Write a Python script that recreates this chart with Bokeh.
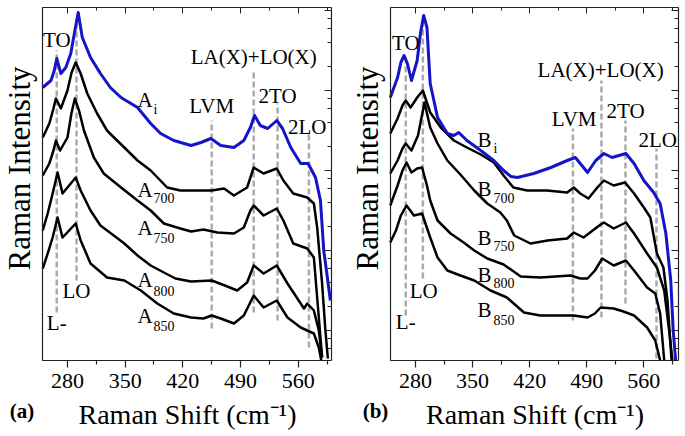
import math
from bokeh.plotting import figure
from bokeh.layouts import row
from bokeh.models import (Range1d, LinearAxis, LogAxis, LogScale, FixedTicker, Label,
                          CustomJSTickFormatter, AllLabels)
from bokeh.embed import file_html
from bokeh.resources import INLINE

FONT = "Liberation Serif"
BLUE = "#1414c8"
GRAY = "#ababab"
INK = "#222222"

# ---------------- data ----------------
tick_values = [280, 350, 420, 490, 560]
minor_tick_values = [315, 385, 455, 525, 595]

# Panel (a)
a_i_x = [250, 260, 264, 267, 272, 278, 284, 289, 293, 298, 308, 320, 332, 345, 365, 381, 393, 409, 430, 442, 454, 466, 482, 494, 502, 507, 514, 523, 534, 541, 551, 563, 572, 581, 587, 591, 597, 599]
a_i_y = [273, 280, 290, 302, 287, 293, 307, 330, 348, 323, 303, 287, 273, 263, 253, 237, 227, 220, 215, 218, 222, 215, 213, 220, 233, 245, 235, 232, 240, 232, 213, 197, 197, 183, 160, 110, 73, 60]
a_700_x = [250, 258, 263, 266, 272, 280, 285, 290, 296, 304, 316, 328, 334, 349, 365, 381, 401, 417, 430, 455, 470, 482, 498, 506, 518, 534, 542, 554, 571, 579, 583, 589, 593, 596]
a_700_y = [223, 237, 252, 262, 252, 270, 288, 298, 287, 267, 247, 230, 225, 213, 200, 190, 173, 170, 170, 170, 172, 165, 173, 193, 187, 192, 180, 167, 163, 157, 133, 77, 30, 2]
a_750_x = [250, 258, 263, 266, 271, 280, 285, 289, 294, 300, 312, 324, 345, 365, 381, 397, 417, 430, 445, 462, 482, 494, 502, 506, 518, 534, 542, 554, 571, 579, 585, 589]
a_750_y = [185, 197, 210, 220, 210, 223, 248, 262, 250, 230, 203, 187, 173, 160, 150, 137, 132, 129, 131, 128, 127, 133, 150, 155, 145, 152, 140, 117, 112, 103, 43, 3]
a_800_x = [250, 256, 262, 268, 274, 282, 290, 296, 308, 320, 333, 349, 365, 381, 397, 411, 430, 455, 471, 486, 498, 506, 518, 534, 547, 563, 567, 571, 579, 585, 589]
a_800_y = [130, 147, 167, 188, 167, 175, 183, 170, 150, 135, 127, 117, 105, 95, 88, 82, 79, 80, 75, 70, 78, 95, 87, 95, 77, 57, 52, 57, 50, 30, 3]
a_850_x = [250, 256, 262, 268, 274, 282, 290, 296, 308, 328, 349, 369, 389, 409, 430, 445, 455, 466, 482, 494, 506, 518, 534, 547, 563, 579, 585, 588]
a_850_y = [92, 107, 123, 143, 123, 130, 137, 120, 97, 83, 80, 70, 57, 47, 43, 42, 45, 42, 37, 45, 65, 53, 60, 43, 33, 27, 13, 0]

a_peak_x = [267, 291, 455, 506, 535, 573]
a_peak_top = [310, 342, 240, 290, 257, 228]
a_peak_bottom = [48, 80, 32, 48, 40, 13]

# Panel (b)
b_i_x = [249, 258, 262, 266, 270, 275, 282, 286, 290, 294, 298, 307, 319, 327, 333, 343, 360, 376, 388, 397, 405, 425, 446, 466, 476, 482, 491, 501, 511, 521, 538, 548, 560, 572, 580, 587, 593, 596, 599]
b_i_y = [263, 283, 298, 305, 297, 280, 300, 327, 345, 333, 277, 243, 227, 225, 228, 220, 210, 200, 190, 184, 183, 187, 193, 200, 203, 197, 188, 200, 207, 203, 207, 197, 180, 168, 157, 127, 80, 30, 0]
b_700_x = [249, 258, 264, 268, 274, 282, 289, 298, 311, 327, 343, 360, 376, 388, 400, 417, 441, 466, 474, 482, 492, 503, 511, 523, 537, 548, 560, 568, 576, 584, 589, 594]
b_700_y = [227, 242, 255, 260, 253, 263, 270, 248, 233, 220, 213, 206, 198, 185, 173, 170, 170, 168, 173, 167, 162, 173, 180, 175, 178, 167, 153, 143, 107, 93, 60, 0]
b_750_x = [249, 258, 264, 268, 275, 283, 291, 298, 307, 319, 335, 352, 368, 384, 392, 401, 421, 442, 466, 474, 486, 507, 511, 523, 538, 548, 564, 576, 585, 591, 595]
b_750_y = [187, 200, 212, 217, 210, 225, 258, 233, 217, 200, 186, 170, 157, 148, 140, 125, 117, 120, 122, 128, 123, 136, 138, 132, 138, 127, 107, 93, 70, 30, 0]
b_800_x = [249, 258, 264, 269, 275, 282, 288, 294, 298, 307, 323, 339, 352, 368, 388, 409, 433, 470, 482, 491, 500, 509, 523, 538, 548, 564, 574, 580, 585]
b_800_y = [155, 175, 190, 198, 188, 192, 193, 175, 160, 140, 127, 118, 110, 102, 96, 84, 83, 85, 82, 82, 90, 102, 95, 100, 90, 73, 67, 47, 0]
b_850_x = [249, 256, 262, 269, 278, 288, 298, 307, 319, 335, 352, 372, 392, 413, 433, 474, 491, 500, 507, 523, 535, 548, 564, 574, 580]
b_850_y = [118, 130, 145, 155, 145, 147, 123, 103, 90, 85, 80, 70, 63, 48, 45, 45, 43, 47, 53, 52, 49, 45, 33, 20, 0]

b_peak_x = [268, 289, 473, 508, 537.5, 575.5]
b_peak_top = [305, 345, 232, 280, 240, 212]
b_peak_bottom = [45, 82, 40, 43, 57, 2]

a_series = [("A", "i", a_i_x, a_i_y), ("A", "700", a_700_x, a_700_y), ("A", "750", a_750_x, a_750_y),
            ("A", "800", a_800_x, a_800_y), ("A", "850", a_850_x, a_850_y)]
b_series = [("B", "i", b_i_x, b_i_y), ("B", "700", b_700_x, b_700_y), ("B", "750", b_750_x, b_750_y),
            ("B", "800", b_800_x, b_800_y), ("B", "850", b_850_x, b_850_y)]

mode_names = ["TO", "LA(X)+LO(X)", "LVM", "2TO", "2LO", "LO", "L-"]
x_title = "Raman Shift (cm\u207b\u00b9)"
y_title = "Raman Intensity"

# ---------------- layout ----------------
Y_BOX = (0, 353)          # intensity range shown inside the box
FIG_H = 436
BOX_TOP_PX, BOX_BOTTOM_PX = 7, 360

a_mode_pos = [(267, 321), (506, 304), (455, 255), (535, 265), (571, 234), (291, 70), (267, 38)]
b_mode_pos = [(268, 318), (507, 291), (474.5, 241.5), (537.5, 250), (577, 220.5), (290, 70), (268, 39)]
a_tag_pos = [(365, 384.5, 261, 251), (365, 384.5, 170.5, 162.5), (365, 384.5, 133, 122.5),
             (365, 384.5, 80.5, 70), (365, 384.5, 45, 35)]
b_tag_pos = [(356, 375.6, 221, 212), (356, 375.6, 171.5, 162.5), (356, 375.6, 122.5, 115),
             (356, 375.6, 86, 77.5), (356, 375.6, 51, 41)]


def label(p, x, y, text, size="21px", align="center", angle=0.0, style="normal"):
    p.add_layout(Label(x=x, y=y, text=text, text_font=FONT, text_font_size=size,
                       text_align=align, text_baseline="middle", angle=angle,
                       text_font_style=style, text_color="black"))


def blank_labels(ax):
    ax.formatter = CustomJSTickFormatter(code="return ''")
    ax.major_label_text_font_size = "1px"
    ax.major_label_standoff = 0
    ax.major_label_policy = AllLabels()


def panel(width, box_left_px, box_right_px, xbox, series, peak_x, peak_top, peak_bot,
          mode_pos, tag_pos, letter, ylab_px, xlab_px, letter_px):
    # whole figure is the frame; the visible box is drawn by axes pinned at its edges
    sx = (box_right_px - box_left_px) / (xbox[1] - xbox[0])
    x0 = xbox[0] - box_left_px / sx
    x1 = x0 + width / sx
    sy = (BOX_BOTTOM_PX - BOX_TOP_PX) / (Y_BOX[1] - Y_BOX[0])
    y_top = Y_BOX[1] + BOX_TOP_PX / sy
    y_bot = y_top - FIG_H / sy

    def px2x(px):
        return x0 + px / sx

    def py2y(py):
        return y_top - py / sy

    p = figure(width=width, height=FIG_H, x_range=Range1d(x0, x1), y_range=Range1d(y_bot, y_top),
               output_backend="svg", toolbar_location=None,
               min_border_left=0, min_border_right=0, min_border_top=0, min_border_bottom=0)
    # log-decade ruler on the right: one decade per 80 px
    dec = 80.0
    log_top = 4.0 + (10 - 0) / dec
    log_bot = log_top - FIG_H / dec
    p.extra_y_ranges = {"log": Range1d(10 ** log_bot, 10 ** log_top)}
    p.extra_y_scales = {"log": LogScale()}
    p.xgrid.visible = False
    p.ygrid.visible = False
    p.background_fill_color = "white"
    p.outline_line_color = None

    xa = p.xaxis[0]
    xa.fixed_location = Y_BOX[0]
    xa.bounds = xbox
    xa.ticker = FixedTicker(ticks=tick_values, minor_ticks=minor_tick_values)
    xa.major_tick_in = 0
    xa.major_tick_out = 7
    xa.minor_tick_in = 0
    xa.minor_tick_out = 4
    xa.major_label_text_font = FONT
    xa.major_label_text_font_size = "22px"
    xa.major_label_text_color = "black"
    xa.major_label_standoff = 6
    xa.axis_line_color = INK
    xa.axis_line_width = 1.2
    xa.major_tick_line_color = INK
    xa.minor_tick_line_color = INK
    xa.major_tick_line_width = 1.2
    xa.minor_tick_line_width = 1.2

    ya = p.yaxis[0]
    ya.fixed_location = xbox[0]
    ya.bounds = Y_BOX
    ya.ticker = FixedTicker(ticks=[])
    ya.major_tick_in = 0
    ya.major_tick_out = 0
    ya.minor_tick_in = 0
    ya.minor_tick_out = 0
    ya.major_label_standoff = 0
    ya.axis_line_color = INK
    ya.axis_line_width = 1.2

    top = LinearAxis(ticker=FixedTicker(ticks=tick_values, minor_ticks=minor_tick_values),
                     fixed_location=Y_BOX[1], bounds=xbox,
                     major_tick_in=6, major_tick_out=0, minor_tick_in=3, minor_tick_out=0,
                     axis_line_color=INK, axis_line_width=1.2,
                     major_tick_line_color=INK, minor_tick_line_color=INK)
    blank_labels(top)
    p.add_layout(top, "above")
    right = LogAxis(y_range_name="log", fixed_location=xbox[1],
                    bounds=(10 ** (log_top - BOX_BOTTOM_PX / dec), 10 ** (log_top - BOX_TOP_PX / dec)),
                    major_tick_in=7, major_tick_out=0, minor_tick_in=4, minor_tick_out=0,
                    axis_line_color=INK, axis_line_width=1.2,
                    major_tick_line_color=INK, minor_tick_line_color=INK)
    blank_labels(right)
    p.add_layout(right, "right")

    p.segment(x0=peak_x, y0=peak_bot, x1=peak_x, y1=peak_top, line_color=GRAY,
              line_width=2.5, line_dash="6 3")

    for i, (base, sub, xs, ys) in enumerate(series):
        if i == 0:
            continue
        p.line(xs, ys, line_color="black", line_width=2.5, line_join="round")
    base, sub, xs, ys = series[0]
    p.line(xs, ys, line_color=BLUE, line_width=3, line_join="round")

    for name, (x, y) in zip(mode_names, mode_pos):
        label(p, x, y, name)
    for (base, sub, xs, ys), (xb, xsub, yb, ysub) in zip(series, tag_pos):
        label(p, xb, yb, base, align="left")
        label(p, xsub, ysub, sub, size="14px", align="left")

    label(p, px2x(ylab_px), py2y(168), y_title, size="31px", angle=math.pi / 2)
    label(p, px2x(xlab_px), py2y(413.5), x_title, size="28px")
    label(p, px2x(letter_px), py2y(410.5), letter, size="21px", style="bold")
    return p


pa = panel(340, 42, 331, (249.7, 600.4), a_series, a_peak_x, a_peak_top, a_peak_bottom,
           a_mode_pos, a_tag_pos, "(a)", 18.5, 187, 21.5)
pb = panel(345, 50, 338, (249.3, 602.5), b_series, b_peak_x, b_peak_top, b_peak_bottom,
           b_mode_pos, b_tag_pos, "(b)", 26.5, 194.5, 35)

layout = row(pa, pb)
open("out.html", "w").write(file_html(layout, INLINE))
